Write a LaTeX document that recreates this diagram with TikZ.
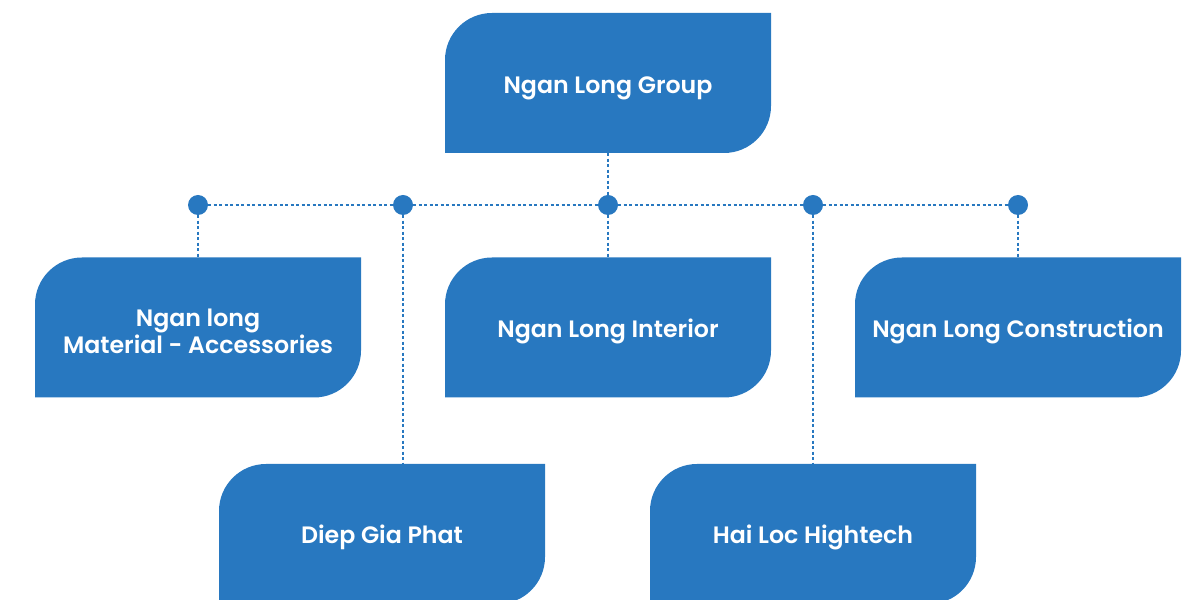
\documentclass[tikz,border=0pt]{standalone}
\usepackage{fontspec}
\setmainfont{Poppins}[UprightFont=* Medium, BoldFont=* SemiBold]
\definecolor{nlblue}{RGB}{40,120,192}
\tikzset{
  leaf/.style={minimum width=326pt, minimum height=140pt, inner sep=0pt,
    path picture={\fill[nlblue]
      (path picture bounding box.south west)
      -- ([yshift=-47pt]path picture bounding box.north west)
      arc[start angle=180,end angle=90,radius=47pt]
      -- (path picture bounding box.north east)
      -- ([yshift=47pt]path picture bounding box.south east)
      arc[start angle=0,end angle=-90,radius=47pt]
      -- cycle;}},
  lbl/.style={text=white, font=\bfseries\fontsize{23.7}{27}\selectfont, align=center, inner sep=0pt},
  dot/.style={circle, fill=nlblue, minimum size=20pt, inner sep=0pt},
  link/.style={nlblue, line width=1.5pt, dash pattern=on 3pt off 2.5pt}
}
\begin{document}
\begin{tikzpicture}[x=1pt,y=1pt]
\useasboundingbox (0,0) rectangle (1184,600);
\clip (0,0) rectangle (1184,600);
\node[leaf] (g) at (608,517) {};
\node[leaf] (b1) at (198,272.5) {};
\node[leaf] (b3) at (608,272.5) {};
\node[leaf] (b5) at (1018,272.5) {};
\node[leaf] (b2) at (382,66) {};
\node[leaf] (b4) at (813,66) {};
\node[lbl] (tg) at (608,512) {Ngan Long Group};
\node[lbl] (t1) at (198,268.5) {Ngan long\\Material - Accessories};
\node[lbl] (t3) at (608,269) {Ngan Long Interior};
\node[lbl] (t5) at (1018,269) {Ngan Long Construction};
\node[lbl] (t2) at (382,63) {Diep Gia Phat};
\node[lbl] (t4) at (813,63) {Hai Loc Hightech};
\node[dot] (d1) at (198,395) {};
\node[dot] (d2) at (403,395) {};
\node[dot] (d3) at (608,395) {};
\node[dot] (d4) at (813,395) {};
\node[dot] (d5) at (1018,395) {};
\draw[link] (g.south) -- (d3);
\draw[link] (d1) -- (d2);
\draw[link] (d2) -- (d3);
\draw[link] (d3) -- (d4);
\draw[link] (d4) -- (d5);
\draw[link] (d1) -- (b1.north);
\draw[link] (d3) -- (b3.north);
\draw[link] (d5) -- (b5.north);
\draw[link] (d2) -- (d2 |- b2.north);
\draw[link] (d4) -- (b4.north);
\end{tikzpicture}
\end{document}
